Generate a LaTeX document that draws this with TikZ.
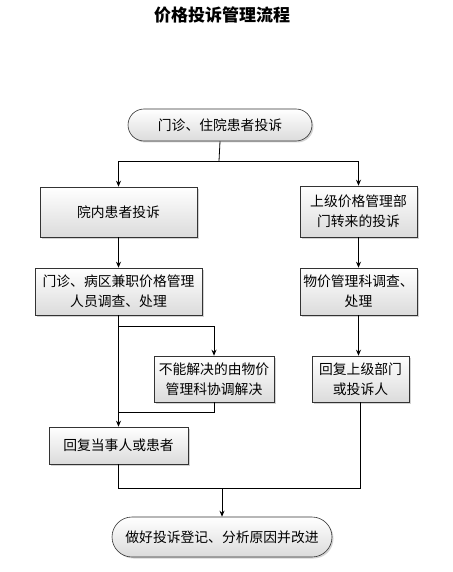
\documentclass[tikz,border=0pt]{standalone}
\usepackage{fontspec}
\setmainfont{Noto Sans CJK SC}
\usetikzlibrary{shapes.misc,shadows,arrows.meta}
\begin{document}
\begin{tikzpicture}[x=1pt,y=-1pt,
  font=\fontsize{13.8}{20}\selectfont,
  box/.style={draw=black!80,line width=0.6pt,top color=white,bottom color=black!14,
    drop shadow={shadow xshift=1.5pt,shadow yshift=-1.5pt,opacity=0.35},
    align=center,inner sep=0pt},
  term/.style={box,rounded rectangle},
  arr/.style={-{Stealth[length=6pt,width=5pt]},line width=0.8pt},
  ln/.style={line width=0.8pt}]
\useasboundingbox (0,0) rectangle (452,572);
\node[font=\fontsize{17}{19}\selectfont\bfseries] (title) at (222,15) {价格投诉管理流程};
\node[term,minimum width=184pt,minimum height=32pt] (top) at (220,125) {门诊、住院患者投诉};
\node[box,minimum width=157pt,minimum height=50pt] (l1) at (118.5,212) {院内患者投诉};
\node[box,minimum width=117pt,minimum height=51pt] (r1) at (358.5,211.5) {上级价格管理部\\门转来的投诉};
\node[box,minimum width=167pt,minimum height=47pt] (l2) at (118.5,291.5) {门诊、病区兼职价格管理\\人员调查、处理};
\node[box,minimum width=117pt,minimum height=47pt] (r2) at (358.5,291.5) {物价管理科调查、\\处理};
\node[box,minimum width=120pt,minimum height=46pt] (m3) at (214,379) {不能解决的由物价\\管理科协调解决};
\node[box,minimum width=97pt,minimum height=46pt] (r3) at (360.5,379) {回复上级部门\\或投诉人};
\node[box,minimum width=139pt,minimum height=37pt] (l3) at (118.5,445.5) {回复当事人或患者};
\node[term,minimum width=220pt,minimum height=40pt] (bot) at (222,537) {做好投诉登记、分析原因并改进};
\coordinate (s1) at (219,161);
\coordinate (s2) at (118.5,326);
\coordinate (s3) at (118.5,412);
\coordinate (s4) at (222,488);
\draw[ln] (top.south) -- (s1);
\draw[arr] (s1) -| (l1.north);
\draw[arr] (s1) -| (r1.north);
\draw[arr] (l1) -- (l2);
\draw[arr] (r1) -- (r2);
\draw[arr] (r2.south) -- (r2.south |- r3.north);
\draw[arr] (l2.south) -- (l3.north);
\draw[arr] (s2) -| (m3.north);
\draw[ln] (m3.south) |- (s3);
\draw[ln] (l3.south) |- (s4);
\draw[ln] (r3.south) |- (s4);
\draw[arr] (s4) -- (bot.north);
\end{tikzpicture}
\end{document}
